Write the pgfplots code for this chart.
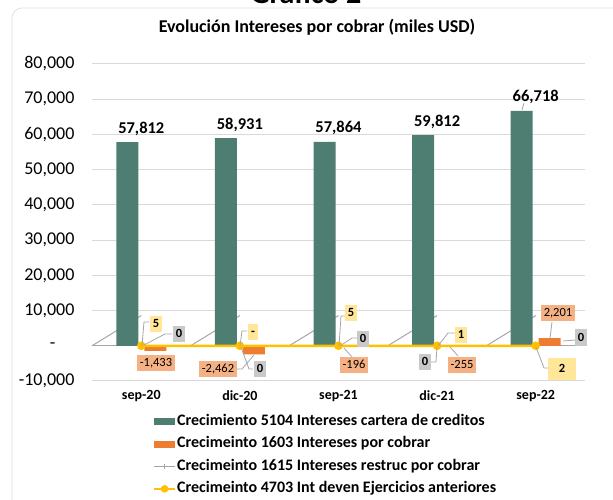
\documentclass[border=0pt]{standalone}
\usepackage{fontspec}
\setmainfont{Carlito}
\usepackage{pgfplots}
\usepackage{pgfplotstable}
\pgfplotsset{compat=1.18}

\definecolor{verde}{HTML}{4E7D72}
\definecolor{naranja}{HTML}{ED7D31}
\definecolor{gris}{HTML}{A5A5A5}
\definecolor{amarillo}{HTML}{FFC000}
\definecolor{cajanar}{HTML}{F4B183}
\definecolor{cajaama}{HTML}{FFE699}
\definecolor{cajagri}{HTML}{C9C9C9}
\definecolor{rejilla}{HTML}{D9D9D9}
\definecolor{guia}{HTML}{A6A6A6}

% miles USD
\pgfplotstableread{
x cartera cobrar restruc anteriores
0 57812 -1433 0 5
1 58931 -2462 0 0
2 57864 -196  0 5
3 59812 -255  0 1
4 66718 2201  0 2
}\datos

\begin{document}
\begin{tikzpicture}[x=1pt,y=1pt]
\draw[rejilla!80, line width=0.8pt, rounded corners=10pt] (12,492) rectangle (640,-30);
\node[font=\bfseries\fontsize{30}{32}\selectfont, anchor=base] at (306,496) {Gráfico 2};
\node[font=\bfseries\fontsize{18}{20}\selectfont] at (317,473) {Evolución Intereses por cobrar (miles USD)};

\begin{axis}[
  at={(92pt,119pt)}, anchor=south west,
  scale only axis, width=493pt, height=317pt,
  xmin=-0.5, xmax=4.5, ymin=-10000, ymax=80000,
  scaled y ticks=false,
  xtick={0,...,4}, xticklabels={sep-20,dic-20,sep-21,dic-21,sep-22},
  ytick={-10000,0,10000,20000,30000,40000,50000,60000,70000,80000},
  yticklabels={{-10,000},{-\hspace*{19pt}},{10,000},{20,000},{30,000},{40,000},{50,000},{60,000},{70,000},{80,000}},
  yticklabel style={font=\fontsize{18}{20}\selectfont, xshift=-14pt},
  xticklabel style={font=\bfseries\fontsize{14}{16}\selectfont, yshift=-6pt},
  axis line style={draw=none}, major tick length=0pt,
  ymajorgrids, grid style={rejilla, line width=1pt},
  legend style={at={(0.124,-0.1025)}, anchor=north west, draw=none, fill=none,
    inner sep=0pt, outer sep=0pt,
    font=\bfseries\fontsize{16}{18}\selectfont,
    nodes={inner sep=1pt, text height=11pt, text depth=4pt},
    row sep=5.3pt},
  legend cell align=left,
]
\draw[guia, line width=1pt] (axis cs:-0.5,0) -- (axis cs:4.5,0);
\pgfplotsinvokeforeach{-0.5,0.5,1.5,2.5,3.5,4.5}{
  \draw[guia, line width=1pt] (axis cs:#1,0) -- ++(0,-5pt);
}

\addplot[ybar, bar width=22pt, bar shift=-14pt, fill=verde, draw=none,
  nodes near coords={\pgfmathprintnumber[1000 sep={,}, assume math mode=true]{\pgfplotspointmeta}},
  nodes near coords style={font=\bfseries\fontsize{16.5}{18}\selectfont, black, anchor=base, yshift=9pt},
  legend image code/.code={\fill[verde] (0pt,-3.5pt) rectangle (21pt,3.5pt);}]
  table[x=x, y=cartera] {\datos};
\addlegendentry{Crecimiento 5104 Intereses cartera de creditos}

\addplot[ybar, bar width=22pt, bar shift=14pt, fill=naranja, draw=none,
  legend image code/.code={\fill[naranja] (0pt,-3.5pt) rectangle (21pt,3.5pt);}]
  table[x=x, y=cobrar] {\datos};
\addlegendentry{Crecimeinto 1603 Intereses por cobrar}

\addplot[gris, line width=1.5pt, mark=+, mark size=3pt,
  legend image code/.code={\draw[gris, line width=1.5pt] (0pt,0pt) -- (21pt,0pt);
    \draw[gris, line width=1pt] (10.5pt,-2.5pt) -- (10.5pt,2.5pt);}]
  table[x=x, y=restruc] {\datos};
\addlegendentry{Crecimeinto 1615 Intereses restruc por cobrar}

\addplot[amarillo, line width=2.5pt, mark=*, mark size=3pt,
  legend image code/.code={\draw[amarillo, line width=2pt] (0pt,0pt) -- (21pt,0pt);
    \fill[amarillo] (10.5pt,0pt) circle (2.5pt);}]
  table[x=x, y=anteriores] {\datos};
\addlegendentry{Crecimeinto 4703 Int deven Ejercicios anteriores}
\end{axis}

% etiquetas de datos con guias (coordenadas de imagen)
\begin{scope}[shift={(0,500)}, yscale=-1,
  caja/.style={font=\fontsize{12.5}{14}\selectfont, inner xsep=3pt, inner ysep=2.5pt,
    text height=9pt, text depth=2pt, minimum height=16pt},
  ama/.style={caja, fill=cajaama, font=\bfseries\fontsize{12.5}{14}\selectfont},
  gri/.style={caja, fill=cajagri, font=\bfseries\fontsize{12.5}{14}\selectfont},
  nar/.style={caja, fill=cajanar},
  g/.style={guia, line width=0.8pt}]
% sep-20
\draw[g] (149,322) -- (144,322) -- (142,346);
\draw[g] (172,334) -- (165,334) -- (144,345);
\node[ama] at (156,324) {5};
\node[gri] at (179,334) {0};
\node[nar] at (156,363) {-1,433};
% dic-20
\draw[g] (247,331) -- (242,331) -- (240,346);
\draw[g] (237,369) -- (242,369) -- (254,355);
\draw[g] (253,369) -- (249,369) -- (241,347);
\node[ama] at (253,332) {-};
\node[nar] at (218,369) {-2,462};
\node[gri] at (260,369) {0};
% sep-21
\draw[g] (345,316) -- (341,316) -- (339,346);
\draw[g] (358,338) -- (352,338) -- (340,346);
\draw[g] (344,348) -- (352,357);
\node[ama] at (351,313) {5};
\node[gri] at (363,339) {0};
\node[nar] at (354,365) {-196};
% dic-21
\draw[g] (455,333) -- (448,333) -- (438,346);
\draw[g] (431,362) -- (436,362) -- (437,347);
\draw[g] (450,347) -- (458,356);
\node[ama] at (461,335) {1};
\node[gri] at (425,362) {0};
\node[nar] at (462,365) {-255};
% sep-22
\draw[g] (524,103) -- (522,110);
\draw[g] (552,322) -- (550,338);
\draw[g] (576,340) -- (563,341);
\draw[g] (548,368) -- (544,368) -- (536,347);
\node[nar] at (558,313) {2,201};
\node[gri, minimum height=17pt] at (581,338) {0};
\node[ama, minimum width=28pt, minimum height=22pt] at (562,369) {2};
\end{scope}

\pgfresetboundingbox
\path[use as bounding box] (0,0) rectangle (613,500);
\end{tikzpicture}
\end{document}
